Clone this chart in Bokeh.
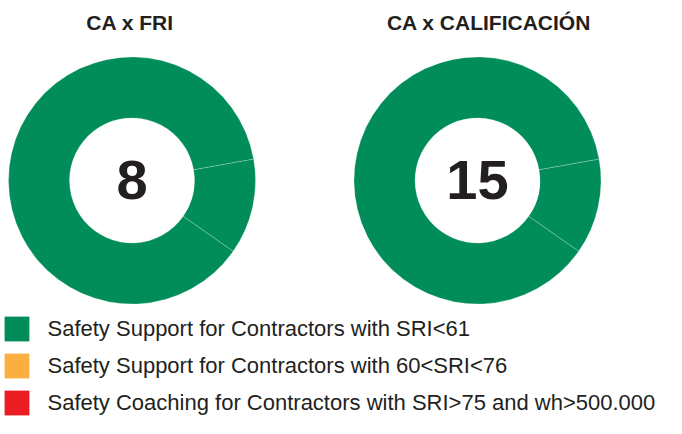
import math
from bokeh.plotting import figure
from bokeh.models import ColumnDataSource, Legend, LegendItem, Range1d
from bokeh.core.properties import value
from bokeh.embed import file_html
from bokeh.resources import INLINE

# ---- data ----
charts = ["CA x FRI", "CA x CALIFICACIÓN"]
totals = ["8", "15"]
# slice shares (percent of ring), both slices green
fri_shares = [12.5, 87.5]
cal_shares = [12.5, 87.5]
slice_colors = ["#008D5A", "#008D5A"]
legend_labels = [
    "Safety Support for Contractors with SRI<61",
    "Safety Support for Contractors with 60<SRI<76",
    "Safety Coaching for Contractors with SRI>75 and wh>500.000",
]
legend_colors = ["#008D5A", "#FAAF40", "#EC1C24"]

W, H = 666, 418
p = figure(width=W, height=H, output_backend="svg", toolbar_location=None,
           x_range=Range1d(0, W), y_range=Range1d(0, H), min_border=0)
p.axis.visible = False
p.grid.visible = False
p.outline_line_color = None
p.background_fill_color = "white"
p.border_fill_color = "white"

centers_x = [131.5, 477.0]
center_y = 238.0
r_out, r_in = 123.5, 62.5
start = math.radians(-35)

for cx, shares in zip(centers_x, [fri_shares, cal_shares]):
    tot = sum(shares)
    starts, ends = [], []
    a = start
    for s in shares:
        starts.append(a)
        a += 2 * math.pi * s / tot
        ends.append(a)
    src = ColumnDataSource(dict(x=[cx] * len(shares), y=[center_y] * len(shares),
                                s=starts, e=ends, c=slice_colors))
    p.annular_wedge(x="x", y="y", inner_radius=r_in, outer_radius=r_out,
                    start_angle="s", end_angle="e", fill_color="c",
                    line_color="white", line_width=0.6, line_alpha=0.4, source=src)

# titles
tsrc = ColumnDataSource(dict(x=[129.5, 488.5], y=[396, 396], t=charts))
p.text(x="x", y="y", text="t", source=tsrc, text_align="center",
       text_baseline="alphabetic", text_font=value("Liberation Sans"),
       text_font_style="bold", text_font_size="21px", text_color="#231F20")

# totals
nsrc = ColumnDataSource(dict(x=centers_x, y=[239, 239], t=totals))
p.text(x="x", y="y", text="t", source=nsrc, text_align="center",
       text_baseline="alphabetic", text_font=value("Liberation Sans"),
       text_font_style="bold", text_font_size="56px", text_color="#231F20")

# legend (swatches only; the glyphs have no drawable position)
nan = float("nan")
items = []
for lab, col in zip(legend_labels, legend_colors):
    r = p.quad(left=[nan], right=[nan], top=[nan], bottom=[nan],
               fill_color=col, line_color=None)
    items.append(LegendItem(label=lab, renderers=[r]))

legend = Legend(items=items, location=(0.5, 0), orientation="vertical",
                glyph_width=31, glyph_height=31, label_height=31,
                label_standoff=16, spacing=6, padding=0, margin=0,
                border_line_color=None, background_fill_alpha=0,
                label_text_font="Liberation Sans", label_text_font_size="22px",
                label_text_color="#231F20")
p.add_layout(legend, "center")

open("out.html", "w").write(file_html(p, INLINE))
